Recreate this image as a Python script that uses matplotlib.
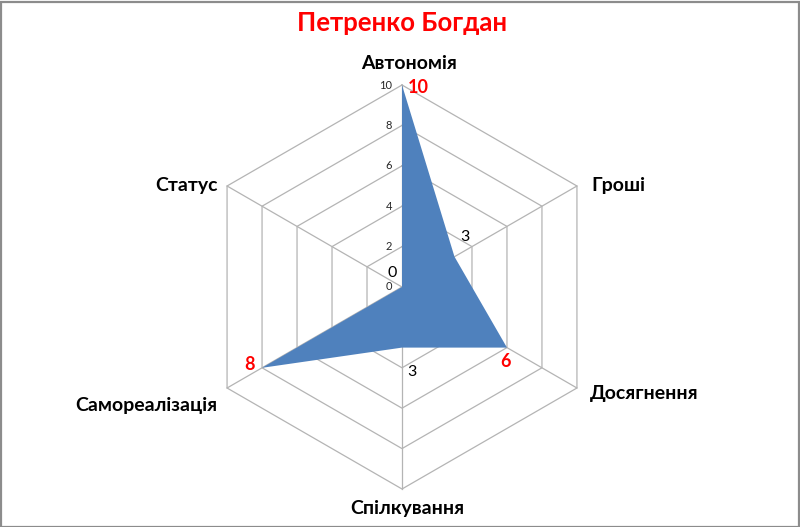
import numpy as np
import matplotlib
matplotlib.use("Agg")
import matplotlib.pyplot as plt
from matplotlib.patches import Rectangle

# ── data ────────────────────────────────────────────────────────────────────
title = "Петренко Богдан"
categories = ["Автономія", "Гроші", "Досягнення", "Спілкування",
              "Самореалізація", "Статус"]
values = [10, 3, 6, 3, 8, 0]
highlight = [True, False, True, False, True, False]   # red data labels
ticks = [0, 2, 4, 6, 8, 10]
rmax = 10

plt.rcParams["font.family"] = ["Lato", "DejaVu Sans"]

GRID = "#b4b4b4"
FILL = "#4f81bd"

fig = plt.figure(figsize=(8.0, 5.27), dpi=100)
ax = fig.add_axes([0, 0, 1, 1])
ax.set_axis_off()

# 20.2 px per unit, centre at (402, 287) px from top-left
scale = 20.2
ax.set_xlim(-402 / scale, (800 - 402) / scale)
ax.set_ylim(-(527 - 287) / scale, 287 / scale)

n = len(categories)
ang = np.arange(n) * 2 * np.pi / n
sx, sy = np.sin(ang), np.cos(ang)

# hexagonal grid
for t in ticks[1:]:
    ax.plot(np.append(t * sx, t * sx[0]), np.append(t * sy, t * sy[0]),
            color=GRID, lw=0.9, zorder=1)
for i in range(n):
    ax.plot([0, rmax * sx[i]], [0, rmax * sy[i]], color=GRID, lw=0.9,
            zorder=1)

# series
v = np.array(values, dtype=float)
ax.fill(v * sx, v * sy, color=FILL, lw=0, zorder=2)

# tick labels along the top spoke
for t in ticks:
    ax.annotate(str(t), (0, t), xytext=(-10, 0), textcoords="offset pixels",
                ha="right", va="center", fontsize=8, color="#262626",
                zorder=3)

# category labels
cat_off = [((7, 16), "center", "baseline"),
           ((14, 0), "left", "center"),
           ((13, -5), "left", "center"),
           ((5, -11), "center", "top"),
           ((-10, -17), "right", "center"),
           ((-9, 1), "right", "center")]
for i, name in enumerate(categories):
    off, ha, va = cat_off[i]
    ax.annotate(name, (rmax * sx[i], rmax * sy[i]), xytext=off,
                textcoords="offset pixels", ha=ha, va=va, fontsize=14,
                fontweight="bold", color="black", zorder=3)

# data labels
lab_off = [(6, -2), (10, 20), (-1, -14), (10, -24), (-13, 3), (-10, 14)]
for i, val in enumerate(values):
    red = highlight[i]
    ax.annotate(str(val), (val * sx[i], val * sy[i]), xytext=lab_off[i],
                textcoords="offset pixels",
                ha="left" if i == 0 else "center", va="center",
                fontsize=13 if red else 11.5,
                fontweight="bold" if red else "normal",
                color="#ff0000" if red else "black", zorder=4)

# title
fig.text(402 / 800, 1 - 31 / 527, title, ha="center", va="baseline",
         fontsize=18.5, fontweight="bold", color="#ff0000")

# outer border
fig.patches.append(Rectangle((0.5 / 800, 0.5 / 527), 798 / 800, 525 / 527,
                             transform=fig.transFigure, fill=False,
                             edgecolor="#8c8c8c", lw=1.6))

fig.savefig("out.png", dpi=100, facecolor="white")
